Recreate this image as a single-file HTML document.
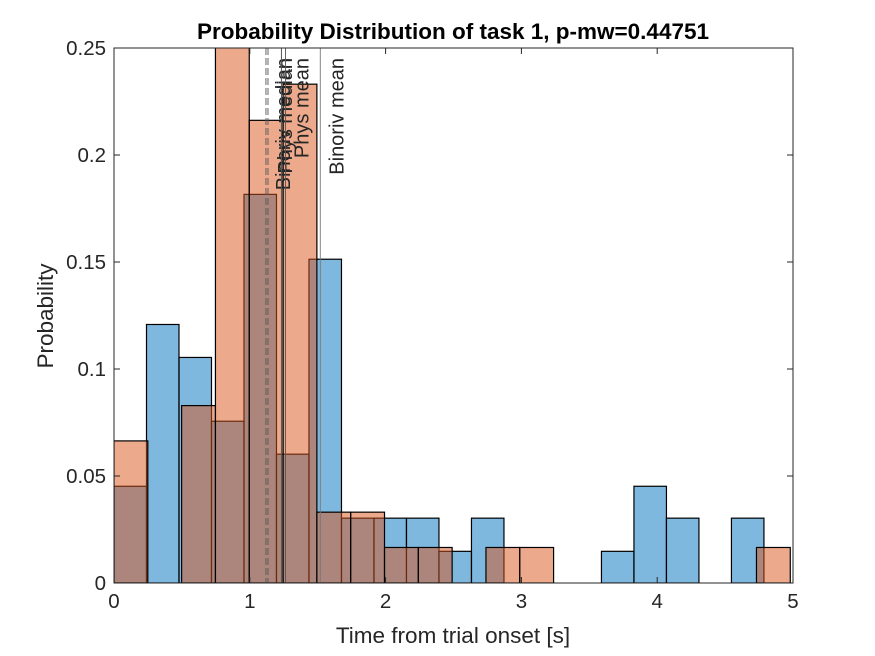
<!DOCTYPE html>
<html><head><meta charset="utf-8"><style>
body{margin:0;background:#fff;}
svg{display:block;font-family:"Liberation Sans",Arial,sans-serif;}
</style></head><body>
<svg id="chart" width="875" height="656">
<rect width="875" height="656" fill="#fff"/>
<g id="bars"></g>
<g id="lines"></g>
<g id="axes"></g>
<text x="453" y="39" text-anchor="middle" font-size="22.5" font-weight="bold" fill="#000">Probability Distribution of task 1, p-mw=0.44751</text>
<text x="453" y="643" text-anchor="middle" font-size="22.5" fill="#262626">Time from trial onset [s]</text>
<text transform="translate(53,316) rotate(-90)" text-anchor="middle" font-size="22.5" fill="#262626">Probability</text>
</svg>
<script>
const blueWidth = 0.2393;
const blueValues = [0.0452,0.1208,0.1054,0.0756,0.1816,0.0602,0.1513,0.0303,0.0303,0.0303,0.0148,0.0303,0,0,0,0.0148,0.0452,0.0303,0,0.0303,0];
const orangeWidth = 0.249;
const orangeValues = [0.0664,0,0.0829,0.26,0.2162,0.2331,0.0331,0.0331,0.0166,0.0166,0,0.0166,0.0166,0,0,0,0,0,0,0.0166];
const refLabels = ["Binoriv median","Phys median","Phys mean","Binoriv mean"];
const refValues = [1.119,1.134,1.263,1.519];
const refExtra = [1.233];
const xTicks = [0,1,2,3,4,5];
const yTicks = [0,0.05,0.1,0.15,0.2,0.25];
const yTickLabels = ["0","0.05","0.1","0.15","0.2","0.25"];

const X0=114,X1=793,Y0=583,Y1=48;
const NS="http://www.w3.org/2000/svg";
function sx(v){return X0+(v-0)/5*(X1-X0);}
function sy(v){return Y0-(v/0.25)*(Y0-Y1);}
function mk(tag,attrs,parent){const e=document.createElementNS(NS,tag);for(const k in attrs)e.setAttribute(k,attrs[k]);parent.appendChild(e);return e;}
const bars=document.getElementById('bars');
const clip=mk('clipPath',{id:'pc'},bars);mk('rect',{x:X0,y:Y1,width:X1-X0,height:Y0-Y1},clip);
const gb=mk('g',{'clip-path':'url(#pc)'},bars);
blueValues.forEach((v,i)=>{if(v<=0)return;
 const x=sx(i*blueWidth),w=sx((i+1)*blueWidth)-x;
 const r=mk('rect',{x:x,y:sy(v),width:w,height:Y0-sy(v),fill:'rgba(0,114,189,0.5)',stroke:'#000','stroke-width':1.2},gb);
 
 
});
orangeValues.forEach((v,i)=>{if(v<=0)return;
 const x=sx(i*orangeWidth),w=Math.min(sx((i+1)*orangeWidth),X1)-x;
 const r=mk('rect',{x:x,y:sy(v),width:w,height:Y0-sy(v),fill:'rgba(217,83,25,0.5)',stroke:'#000','stroke-width':1.2},gb);
 
 
});
const lines=document.getElementById('lines');
const dashes=[true,true,false,false];
const cols=['#555','#555','#555','#777'];
refValues.forEach((v,i)=>{
 const x=sx(v);
 const l=mk('line',{x1:x,x2:x,y1:Y1,y2:Y0,stroke:cols[i],'stroke-width':0.9,'stroke-dasharray':dashes[i]?'7,3':'none'},lines);
 
 
 const t=mk('text',{transform:`translate(${x+(i<2?24:23)},58) rotate(-90)`,'text-anchor':'end','font-size':'20',fill:'#262626'},lines);
 t.textContent=refLabels[i];
 
 
});
refExtra.forEach(v=>{const x=sx(v);
 const l=mk('line',{x1:x,x2:x,y1:Y1,y2:Y0,stroke:'#555','stroke-width':1},lines);
 
 
});
const ax=document.getElementById('axes');
mk('rect',{x:X0,y:Y1,width:X1-X0,height:Y0-Y1,fill:'none',stroke:'#262626','stroke-width':1},ax);
xTicks.forEach(v=>{const x=sx(v);
 mk('line',{x1:x,x2:x,y1:Y0,y2:Y0-6,stroke:'#262626'},ax);
 mk('line',{x1:x,x2:x,y1:Y1,y2:Y1+6,stroke:'#262626'},ax);
 const t=mk('text',{x:x,y:Y0+25,'text-anchor':'middle','font-size':'20.5',fill:'#262626'},ax);
 t.textContent=String(v);
 
 
});
yTicks.forEach((v,i)=>{const y=sy(v);
 mk('line',{x1:X0,x2:X0+6,y1:y,y2:y,stroke:'#262626'},ax);
 mk('line',{x1:X1,x2:X1-6,y1:y,y2:y,stroke:'#262626'},ax);
 const t=mk('text',{x:X0-8,y:y+7,'text-anchor':'end','font-size':'20.5',fill:'#262626'},ax);
 t.textContent=yTickLabels[i];
 
 
});
</script>
</body></html>
